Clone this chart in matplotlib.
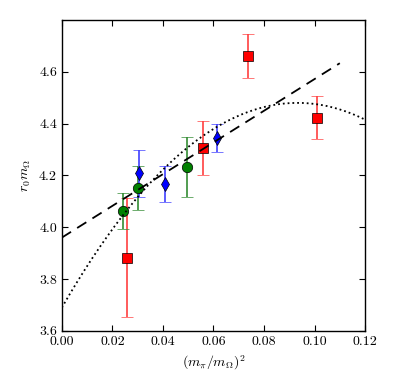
import numpy as np
import matplotlib
matplotlib.use("Agg")
import matplotlib.pyplot as plt

plt.rcParams['font.family'] = 'serif'
plt.rcParams['font.serif'] = ['cmr10']
plt.rcParams['mathtext.fontset'] = 'cm'
plt.rcParams['axes.formatter.use_mathtext'] = True
plt.rcParams['font.size'] = 10

# data
red_x = [0.0257, 0.0558, 0.0737, 0.1010]
red_y = [3.882, 4.306, 4.661, 4.423]
red_err = [0.230, 0.106, 0.084, 0.083]

green_x = [0.0242, 0.0301, 0.0495]
green_y = [4.063, 4.150, 4.233]
green_err = [0.071, 0.085, 0.116]

blue_x = [0.0305, 0.0408, 0.0614]
blue_y = [4.208, 4.167, 4.346]
blue_err = [0.091, 0.071, 0.054]

# linear fit: intercept, slope, x range
lin_a, lin_b = 3.960, 6.12
lin_xmax = 0.110

# quadratic fit: peak value, peak position, curvature
quad_top, quad_x0, quad_k = 4.480, 0.0933, 90.8

fig = plt.figure(figsize=(3.99, 3.92), dpi=100)
ax = fig.add_axes([0.155, 0.156, 0.76, 0.793])

ax.errorbar(red_x, red_y, yerr=red_err, fmt='s', color='red', ecolor=(1, 0.25, 0.25),
            mec='k', mew=0.5, ms=7.5, capsize=4, elinewidth=1.2)
ax.errorbar(green_x, green_y, yerr=green_err, fmt='o', color='green', ecolor=(0.2, 0.55, 0.2),
            mec='k', mew=0.5, ms=7.5, capsize=4, elinewidth=1.2)
ax.errorbar(blue_x, blue_y, yerr=blue_err, fmt='d', color='blue', ecolor=(0.25, 0.25, 1),
            mec='k', mew=0.5, ms=7.5, capsize=4, elinewidth=1.2)

xl = np.linspace(0, lin_xmax, 50)
ax.plot(xl, lin_a + lin_b * xl, 'k--', lw=1.3, dashes=(6, 4), zorder=4)
xq = np.linspace(0, 0.12, 200)
ax.plot(xq, quad_top - quad_k * (xq - quad_x0) ** 2, 'k:', lw=1.3, zorder=4)

ax.set_xlim(0, 0.12)
ax.set_ylim(3.6, 4.8)
ax.set_xticks(np.arange(0, 0.121, 0.02))
ax.set_yticks(np.arange(3.6, 4.61, 0.2))
ax.xaxis.set_major_formatter(plt.FormatStrFormatter('%.2f'))
ax.yaxis.set_major_formatter(plt.FormatStrFormatter('%.1f'))
ax.tick_params(direction='in', top=True, right=True, length=4, width=0.8)
for s in ax.spines.values():
    s.set_linewidth(1.0)

ax.set_xlabel(r'$(m_\pi/m_\Omega)^2$')
ax.set_ylabel(r'$r_0 m_\Omega$')

fig.savefig('out.png', dpi=100)
